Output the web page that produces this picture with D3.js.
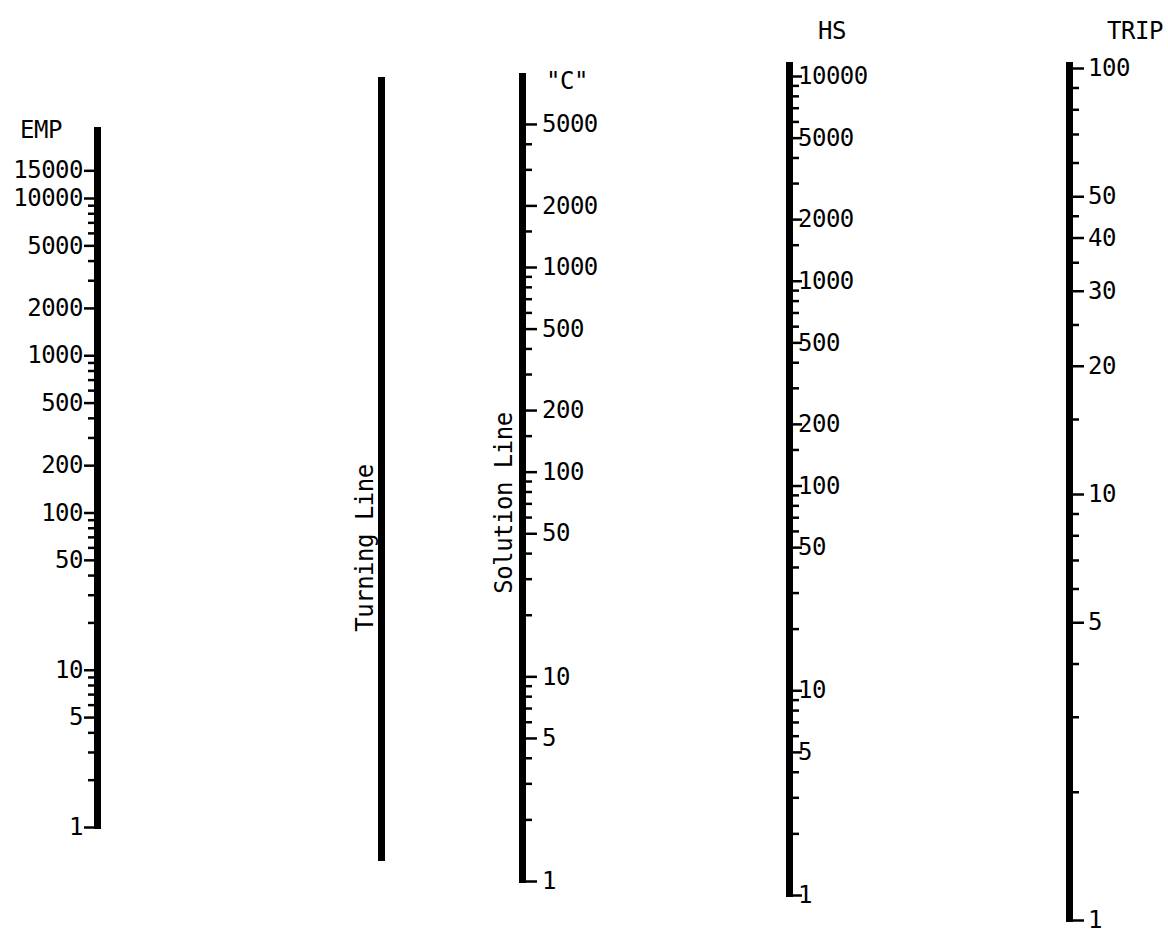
<!DOCTYPE html>
<html>
<head>
<meta charset="utf-8">
<script src="https://cdn.jsdelivr.net/npm/d3@7"></script>
<style>
  html, body { margin: 0; padding: 0; background: #fff; }
  svg text { font-family: "DejaVu Sans Mono", "Liberation Mono", monospace; fill: #000; letter-spacing: -0.5px; }
</style>
</head>
<body>
<svg id="chart" width="1168" height="934"></svg>
<script>
// Nomograph scales (all logarithmic)
const empTicks = [1,2,3,4,5,6,7,8,9,10,20,30,40,50,60,70,80,90,100,200,300,400,500,600,700,800,900,1000,2000,3000,4000,5000,6000,7000,8000,9000,10000,15000];
const empLabels = [1,5,10,50,100,200,500,1000,2000,5000,10000,15000];

const cTicks = [1,2,3,4,5,6,7,8,9,10,20,30,40,50,60,70,80,90,100,150,200,300,400,500,600,700,800,900,1000,1500,2000,3000,4000,5000];
const cLabels = [1,5,10,50,100,200,500,1000,2000,5000];

const hsTicks = [1,2,3,4,5,6,7,8,9,10,20,30,40,50,60,70,80,90,100,150,200,300,400,500,600,700,800,900,1000,1500,2000,3000,4000,5000,6000,7000,8000,9000,10000];
const hsLabels = [1,5,10,50,100,200,500,1000,2000,5000,10000];

const tripTicks = [1,2,3,4,5,6,7,8,9,10,15,20,25,30,35,40,45,50,60,70,80,90,100];
const tripLabels = [1,5,10,20,30,40,50,100];

const titles = { emp: "EMP", c: "\"C\"", hs: "HS", trip: "TRIP", turning: "Turning Line", solution: "Solution Line" };

const svg = d3.select("#chart");
const fmt = d3.format("d");
const FONT = 24;

// Each scale: position, value range, pixel range, stem top, tick length and label gap
const scales = {
  emp:  { x: 97.5,  side: "left",  y: d3.scaleLog().domain([1, 10000]).range([827, 198]), top: 127, tick: 10, pad: 1,  ticks: empTicks, labels: empLabels },
  c:    { x: 522.5, side: "right", y: d3.scaleLog().domain([1, 1000]).range([881, 267]),  top: 73,  tick: 11, pad: 5,  ticks: cTicks,   labels: cLabels },
  hs:   { x: 789.5, side: "right", y: d3.scaleLog().domain([1, 10000]).range([895, 76]),  top: 62,  tick: 9,  pad: -4, ticks: hsTicks,  labels: hsLabels },
  trip: { x: 1069.5,side: "right", y: d3.scaleLog().domain([1, 100]).range([920, 68]),    top: 62,  tick: 11, pad: 4,  ticks: tripTicks,labels: tripLabels }
};

function drawScale(s) {
  const g = svg.append("g").attr("transform", `translate(${s.x},0)`);
  const bottom = s.y(1);
  // thick stem
  g.append("line")
    .attr("x1", 0).attr("x2", 0)
    .attr("y1", s.top).attr("y2", bottom + 2)
    .attr("stroke", "#000").attr("stroke-width", 7);

  const axisFn = s.side === "left" ? d3.axisLeft : d3.axisRight;
  const offs = 3.5;
  const shift = s.side === "left" ? -offs : offs;

  // minor ticks
  const minor = s.ticks.filter(v => !s.labels.includes(v));
  const gm = g.append("g").attr("transform", `translate(${shift},0)`)
    .call(axisFn(s.y).tickValues(minor).tickSize(6).tickFormat(""));
  gm.select(".domain").remove();
  gm.selectAll(".tick line").attr("stroke", "#000").attr("stroke-width", 2.5);

  // labelled ticks
  const gM = g.append("g").attr("transform", `translate(${shift},0)`)
    .call(axisFn(s.y).tickValues(s.labels).tickSize(s.tick).tickPadding(s.pad).tickFormat(fmt));
  gM.select(".domain").remove();
  gM.selectAll(".tick line").attr("stroke", "#000").attr("stroke-width", 2.5);
  gM.selectAll(".tick text")
    .attr("font-size", FONT)
    .attr("fill", "#000")
    .style("font-family", "'DejaVu Sans Mono', 'Liberation Mono', monospace");
  return g;
}

Object.values(scales).forEach(drawScale);

// Turning line (no graduations)
const turningX = 381.5;
svg.append("line")
  .attr("x1", turningX).attr("x2", turningX)
  .attr("y1", 77).attr("y2", 861)
  .attr("stroke", "#000").attr("stroke-width", 7);

// Titles
svg.append("text").attr("x", 41).attr("y", 138).attr("text-anchor", "middle")
  .attr("font-size", FONT).text(titles.emp);
svg.append("text").attr("x", 567).attr("y", 89).attr("text-anchor", "middle")
  .attr("font-size", FONT).text(titles.c);
svg.append("text").attr("x", 832).attr("y", 39).attr("text-anchor", "middle")
  .attr("font-size", FONT).text(titles.hs);
svg.append("text").attr("x", 1135).attr("y", 39).attr("text-anchor", "middle")
  .attr("font-size", FONT).text(titles.trip);

// Rotated line names
svg.append("text")
  .attr("transform", "translate(373,548) rotate(-90)")
  .attr("text-anchor", "middle").attr("font-size", FONT).text(titles.turning);
svg.append("text")
  .attr("transform", "translate(512,503) rotate(-90)")
  .attr("text-anchor", "middle").attr("font-size", FONT).text(titles.solution);
</script>
</body>
</html>
